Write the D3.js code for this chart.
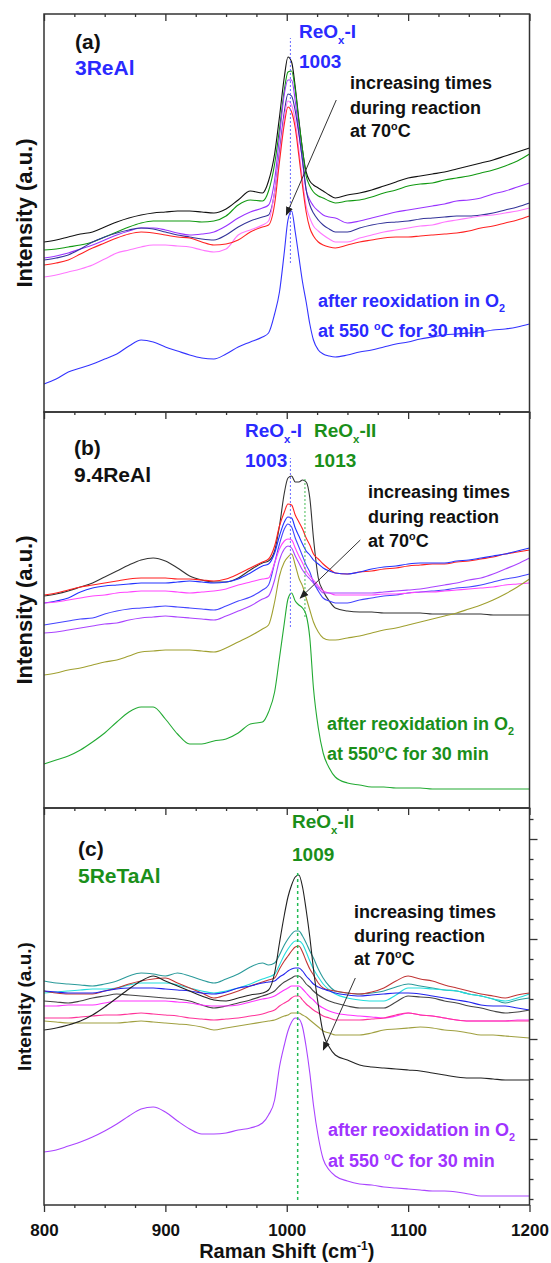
<!DOCTYPE html>
<html>
<head>
<meta charset="utf-8">
<script src="https://cdn.jsdelivr.net/npm/d3@7"></script>
<style>
body { margin: 0; background: #fff; }
svg { display: block; font-family: "Liberation Sans", Arial, sans-serif; font-weight: bold; }
</style>
</head>
<body>
<svg id="chart" width="551" height="1263"></svg>
<script>
// Raman shift grid (cm-1), shared by the three panels
const shift = [800,810,820,830,840,850,860,870,880,890,900,910,920,930,940,950,960,970,980,
	985,990,994,998,1001,1004,1007,1010,1013,1016,1019,1022,1026,1030,1035,
	1040,1050,1060,1070,1080,1090,1100,1110,1120,1130,1140,1150,1160,1170,1180,1190,1200];

// (a) 3ReAl, intensities (a.u., offset spectra)
const aBlack  = [170,172,175,178,180,185,190,194,197,199,200,201,201,200,199,203,212,221,219, 231,258,295,335,355,350,325,292,262,240,231,227,224,221,217, 214,217,219,222,226,230,234,236,238,240,243,246,249,252,256,260,264];
const aGreen  = [162,163,165,167,170,175,180,185,189,191,191,191,191,190,191,196,207,212,211, 221,248,283,322,340,341,322,290,262,236,226,220,216,214,211, 209,211,212,215,219,222,226,228,229,232,234,236,239,242,246,251,258];
const aPurple = [154,156,159,163,167,172,177,181,184,184,182,179,177,178,180,186,194,200,204, 207,232,275,318,332,332,311,280,250,222,212,206,201,197,195, 194,189,191,194,197,200,202,204,206,208,211,212,214,218,221,225,229];
const aNavy   = [152,154,157,163,170,175,179,182,184,183,180,177,175,173,172,177,185,191,195, 197,220,260,300,318,316,301,278,252,222,207,199,192,187,183, 180,180,184,187,189,190,191,193,194,195,196,196,197,199,202,205,209];
const aPink   = [135,137,140,143,147,153,159,162,165,167,167,166,165,162,160,163,177,182,187, 191,220,256,295,311,307,291,262,232,206,194,186,181,177,173, 170,170,174,177,180,182,184,186,187,190,192,194,196,197,199,201,204];
const aRed    = [147,149,152,158,164,169,174,178,180,179,177,175,174,170,167,168,172,180,185, 187,208,250,288,305,300,284,256,226,200,184,176,170,167,165, 164,167,170,172,174,175,175,176,177,178,179,181,184,186,189,192,196];
const aReox   = [28,33,40,44,48,53,58,66,72,70,65,61,57,54,53,58,65,70,75, 79,98,120,160,192,201,180,155,130,110,88,72,62,58,56, 55,57,60,62,65,68,70,73,75,77,78,79,80,82,83,85,88];

// (b) 9.4ReAl
const bBlack   = [212,214,217,221,225,231,237,243,248,250,247,240,232,228,226,226,230,238,245, 247,257,282,315,330,332,326,326,328,326,310,270,230,217,207, 200,197,196,196,195,195,195,195,194,194,194,194,194,193,193,193,193];
const bRed     = [213,215,218,221,223,225,227,229,230,230,230,229,229,228,227,229,234,240,246, 249,262,282,296,304,303,293,286,279,270,263,254,249,244,239, 235,234,236,237,239,240,242,243,244,244,246,247,249,251,254,256,258];
const bBlue    = [205,207,210,216,220,222,223,224,225,225,225,226,227,226,225,226,229,235,242, 244,255,272,286,291,290,280,272,264,257,253,248,244,240,237, 235,234,236,239,241,242,244,245,245,245,247,248,250,252,254,257,260];
const bBlue2   = [183,185,187,189,190,194,197,199,200,201,202,201,200,199,198,202,207,211,218, 223,245,264,279,284,281,270,261,252,243,236,226,217,210,207, 205,205,208,210,212,213,215,216,217,218,220,221,223,226,229,231,234];
const bMagenta = [205,206,208,210,212,213,215,216,217,217,217,216,215,216,217,219,223,226,229, 230,245,259,267,269,268,260,252,245,237,232,228,222,217,215, 213,213,213,213,214,214,215,216,216,217,218,219,220,221,223,224,225];
const bPurple  = [175,176,178,180,182,184,185,188,190,191,192,191,190,189,188,192,197,202,209, 212,228,248,259,262,260,252,245,238,233,229,225,220,215,215, 215,215,215,215,216,217,218,219,221,223,225,228,230,234,239,244,250];
const bOlive   = [133,135,138,140,143,146,148,152,156,157,158,158,158,157,156,160,166,172,179, 183,206,232,246,251,254,243,230,222,210,198,186,176,170,168, 168,170,172,175,178,180,183,186,189,192,195,199,203,208,214,221,229];
const bReox    = [44,48,52,58,66,75,86,96,101,101,89,74,64,64,67,69,75,84,86, 96,116,150,185,209,215,207,203,200,193,170,120,80,55,40, 31,25,23,21,21,20,20,20,19,19,19,19,19,19,19,19,19];

// (c) 5ReTaAl
const cBlack   = [175,177,180,184,190,198,207,216,224,229,224,219,214,209,205,204,207,210,212, 215,232,262,290,308,320,328,330,318,295,268,236,200,172,158, 150,145,140,138,137,136,135,134,132,130,128,127,127,126,125,125,125];
const cTeal    = [224,222,221,220,219,221,224,229,232,231,229,232,229,225,222,226,231,238,242, 240,242,250,260,266,271,274,274,269,262,254,247,236,227,219, 214,212,211,212,214,218,221,219,217,215,214,211,209,206,202,205,207];
const cCyan    = [212,213,214,215,216,216,217,220,222,222,222,220,217,214,212,214,217,221,226, 228,231,240,250,256,261,264,264,261,253,244,236,228,221,215, 211,207,205,204,204,210,217,217,216,215,214,211,209,206,204,207,211];
const cBrown   = [214,212,211,211,211,214,217,221,224,226,227,222,217,212,207,210,214,219,223, 225,227,236,244,249,254,258,259,253,244,236,230,222,217,215, 214,212,211,213,217,224,229,226,224,220,217,214,211,209,207,210,212];
const cBlue    = [214,213,212,212,212,214,216,217,217,217,216,215,214,212,211,213,217,219,222, 223,224,228,231,234,236,237,237,234,229,225,221,218,216,214, 212,210,209,210,211,212,212,211,209,207,205,203,200,199,199,197,195];
const cGray    = [204,203,202,204,207,209,211,210,209,208,207,206,204,200,197,199,202,205,209, 211,214,219,223,225,227,229,229,226,221,218,214,210,207,204, 202,199,197,197,197,203,209,208,207,204,202,199,197,194,192,193,195];
const cMagenta = [199,199,200,200,200,202,204,204,204,204,204,203,202,200,199,199,200,203,206, 207,209,212,215,217,219,219,219,216,212,208,205,200,197,194, 192,190,189,188,187,189,192,190,189,187,185,184,184,184,184,185,185];
const cPink    = [187,187,187,188,189,190,190,191,192,191,190,189,187,186,185,186,187,189,191, 193,195,199,202,204,207,209,209,205,201,198,195,192,189,187, 185,185,185,186,187,190,192,190,189,187,185,184,184,184,184,184,184];
const cOlive   = [184,183,182,182,182,182,182,183,184,183,182,181,180,178,175,177,179,181,183, 184,185,187,189,190,192,192,192,190,188,185,182,178,174,172, 170,170,170,172,175,176,177,178,177,175,174,172,170,170,169,168,167];
const cReox    = [53,55,59,63,68,74,81,89,96,98,93,84,76,71,71,72,75,77,82, 90,105,138,160,174,183,187,186,178,158,132,100,68,46,35, 29,24,21,20,18,17,16,15,14,14,13,11,9,9,9,9,9];

// axis ticks
const majorTicks = [800, 900, 1000, 1100, 1200];
const minorTicks = [825,850,875,925,950,975,1025,1050,1075,1125,1150,1175];
const rightTicksC = d3.range(6, 397, 20);

const BLUE = "#2a2aff", GREEN = "#1a8f1a", PURPLE = "#a033ff";

const panels = [
	{
		top: 14, bottom: 412, labelSize: 22,
		series: [
			[aBlack, "#111"], [aGreen, "#119911"], [aPurple, "#9933ff"], [aNavy, "#333399"],
			[aPink, "#ff77ff"], [aRed, "#ff2222"], [aReox, "#3333ff"]
		],
		guides: [{ at: 1003, from: 149, to: 374, color: "#6a6aff", dash: "2,2", width: 1 }],
		arrow: [[1040.8, 312], [999.6, 197]],
		texts: [
			{ dx: 31, dy: 35, size: 21, color: "#111", parts: ["(a)"] },
			{ dx: 31, dy: 61, size: 21, color: BLUE, parts: ["3ReAl"] },
			{ dx: 255, dy: 24, size: 19, color: BLUE, parts: ["ReO", ["x", "sub"], "-I"] },
			{ dx: 255, dy: 54, size: 19, color: BLUE, parts: ["1003"] },
			{ dx: 306, dy: 75, size: 18, color: "#111", parts: ["increasing times"] },
			{ dx: 306, dy: 100, size: 18, color: "#111", parts: ["during reaction"] },
			{ dx: 306, dy: 123, size: 18, color: "#111", parts: ["at 70", ["o", "sup"], "C"] },
			{ dx: 274, dy: 293, size: 18, color: BLUE, parts: ["after reoxidation in O", ["2", "sub"]] },
			{ dx: 274, dy: 323, size: 18, color: BLUE, parts: ["at 550 ", ["o", "sup"], "C for 30 min"] }
		]
	},
	{
		top: 412, bottom: 808, labelSize: 22,
		series: [
			[bBlack, "#333"], [bRed, "#ff2020"], [bBlue, "#2233ff"], [bBlue2, "#4444ff"],
			[bMagenta, "#ff44ff"], [bPurple, "#aa44ff"], [bOlive, "#a0a030"], [bReox, "#22aa33"]
		],
		guides: [
			{ at: 1003, from: 181, to: 350, color: "#6a6aff", dash: "2,2", width: 1 },
			{ at: 1015, from: 191, to: 331, color: "#44bb55", dash: "2,2", width: 1 }
		],
		arrow: [[1060.6, 268], [1011.1, 210]],
		texts: [
			{ dx: 30, dy: 43, size: 21, color: "#111", parts: ["(b)"] },
			{ dx: 30, dy: 70, size: 21, color: "#111", parts: ["9.4ReAl"] },
			{ dx: 201, dy: 25, size: 19, color: BLUE, parts: ["ReO", ["x", "sub"], "-I"] },
			{ dx: 201, dy: 55, size: 19, color: BLUE, parts: ["1003"] },
			{ dx: 270, dy: 25, size: 19, color: GREEN, parts: ["ReO", ["x", "sub"], "-II"] },
			{ dx: 270, dy: 55, size: 19, color: GREEN, parts: ["1013"] },
			{ dx: 324, dy: 86, size: 18, color: "#111", parts: ["increasing times"] },
			{ dx: 324, dy: 111, size: 18, color: "#111", parts: ["during reaction"] },
			{ dx: 324, dy: 135, size: 18, color: "#111", parts: ["at 70", ["o", "sup"], "C"] },
			{ dx: 283, dy: 318, size: 18, color: GREEN, parts: ["after reoxidation in O", ["2", "sub"]] },
			{ dx: 283, dy: 348, size: 18, color: GREEN, parts: ["at 550", ["o", "sup"], "C for 30 min"] }
		]
	},
	{
		top: 808, bottom: 1205, labelSize: 19,
		series: [
			[cTeal, "#2a9a9a"], [cCyan, "#22dddd"], [cBrown, "#c03535"], [cBlue, "#2222ee"],
			[cGray, "#444"], [cMagenta, "#ff33ff"], [cPink, "#ff3399"], [cOlive, "#a0a040"],
			[cBlack, "#222"], [cReox, "#aa44ff"]
		],
		guides: [{ at: 1009, from: 5, to: 332, color: "#22bb55", dash: "3,3", width: 1.5 }],
		arrow: [[1056.5, 227], [1030.1, 155]],
		texts: [
			{ dx: 248, dy: 20, size: 19, color: GREEN, parts: ["ReO", ["x", "sub"], "-II"] },
			{ dx: 248, dy: 53, size: 19, color: GREEN, parts: ["1009"] },
			{ dx: 34, dy: 48, size: 21, color: "#111", parts: ["(c)"] },
			{ dx: 34, dy: 75, size: 21, color: GREEN, parts: ["5ReTaAl"] },
			{ dx: 310, dy: 110, size: 18, color: "#111", parts: ["increasing times"] },
			{ dx: 310, dy: 134, size: 18, color: "#111", parts: ["during reaction"] },
			{ dx: 310, dy: 157, size: 18, color: "#111", parts: ["at 70", ["o", "sup"], "C"] },
			{ dx: 284, dy: 328, size: 18, color: PURPLE, parts: ["after reoxidation in O", ["2", "sub"]] },
			{ dx: 284, dy: 359, size: 18, color: PURPLE, parts: ["at 550 ", ["o", "sup"], "C for 30 min"] }
		]
	}
];

const svg = d3.select("#chart");
const x = d3.scaleLinear().domain([800, 1200]).range([44, 529.5]);
const LEFT = x(800), RIGHT = x(1200);

svg.append("defs").append("marker")
	.attr("id", "arrowhead")
	.attr("viewBox", "0 0 10 10")
	.attr("refX", 9).attr("refY", 5)
	.attr("markerWidth", 9).attr("markerHeight", 9)
	.attr("orient", "auto")
	.append("path")
	.attr("d", "M0,1 L10,5 L0,9 Z")
	.attr("fill", "#222");

// text with sub/superscript pieces
function richText(g, px, py, parts, size, color) {
	const t = g.append("text")
		.attr("x", px).attr("y", py)
		.style("font-size", size + "px")
		.style("fill", color);
	let shift = 0;
	parts.forEach(part => {
		const [str, kind] = typeof part === "string" ? [part, null] : part;
		const target = kind === "sub" ? size * 0.3 : kind === "sup" ? -size * 0.4 : 0;
		const ts = t.append("tspan").text(str);
		if (target !== shift) ts.attr("dy", target - shift);
		if (kind) ts.style("font-size", (size * 0.6) + "px");
		shift = target;
	});
	return t;
}

function xTicks(yPos, withLabels) {
	const minor = svg.append("g")
		.attr("transform", `translate(0,${yPos})`)
		.call(d3.axisBottom(x).tickValues(minorTicks).tickSize(3).tickFormat(""));
	minor.select(".domain").remove();
	const major = svg.append("g")
		.attr("transform", `translate(0,${yPos})`)
		.call(d3.axisBottom(x).tickValues(majorTicks).tickSize(7)
			.tickFormat(withLabels ? d3.format("d") : ""));
	major.select(".domain").remove();
	svg.selectAll(".tick line").attr("stroke", "#333").attr("stroke-width", 1.3);
	major.selectAll("text")
		.attr("y", 19)
		.attr("dy", "0.71em")
		.style("font-size", "17px")
		.style("font-family", "'Liberation Sans', Arial, sans-serif")
		.style("font-weight", "bold")
		.style("fill", "#111");
}

panels.forEach((p, pi) => {
	const y = d3.scaleLinear().domain([0, p.bottom - p.top]).range([p.bottom, p.top]);
	const g = svg.append("g");

	const line = d3.line()
		.x((d, i) => x(shift[i]))
		.y(d => y(d))
		.curve(d3.curveMonotoneX);

	p.series.forEach(([vals, color]) => {
		g.append("path")
			.attr("d", line(vals))
			.attr("fill", "none")
			.attr("stroke", color)
			.attr("stroke-width", 1.1)
			.attr("stroke-linejoin", "round");
	});

	// peak position guides
	p.guides.forEach(gd => {
		g.append("line")
			.attr("x1", x(gd.at)).attr("x2", x(gd.at))
			.attr("y1", y(gd.from)).attr("y2", y(gd.to))
			.attr("stroke", gd.color)
			.attr("stroke-width", gd.width)
			.attr("stroke-dasharray", gd.dash);
	});

	// arrow
	g.append("line")
		.attr("x1", x(p.arrow[0][0])).attr("y1", y(p.arrow[0][1]))
		.attr("x2", x(p.arrow[1][0])).attr("y2", y(p.arrow[1][1]))
		.attr("stroke", "#333")
		.attr("stroke-width", 1)
		.attr("marker-end", "url(#arrowhead)");

	p.texts.forEach(t => richText(g, LEFT + t.dx, p.top + t.dy, t.parts, t.size, t.color));

	// y title
	g.append("text")
		.attr("transform", `translate(24,${(p.top + p.bottom) / 2}) rotate(-90)`)
		.attr("text-anchor", "middle")
		.attr("dy", "0.36em")
		.style("font-size", p.labelSize + "px")
		.style("fill", "#111")
		.text("Intensity (a.u.)");

	// frame
	g.append("rect")
		.attr("x", LEFT).attr("y", p.top)
		.attr("width", RIGHT - LEFT).attr("height", p.bottom - p.top)
		.attr("fill", "none")
		.attr("stroke", "#333")
		.attr("stroke-width", 1.5);

	if (pi === 2) {
		const rMinor = svg.append("g")
			.attr("transform", `translate(${RIGHT},0)`)
			.call(d3.axisRight(y).tickValues(rightTicksC.filter((d, i) => i % 5 !== 3)).tickSize(4).tickFormat(""));
		rMinor.select(".domain").remove();
		const rMajor = svg.append("g")
			.attr("transform", `translate(${RIGHT},0)`)
			.call(d3.axisRight(y).tickValues(rightTicksC.filter((d, i) => i % 5 === 3)).tickSize(8).tickFormat(""));
		rMajor.select(".domain").remove();
	}
});

xTicks(14, false);
xTicks(412, false);
xTicks(808, false);
xTicks(1205, true);

richText(svg, x(1000), 1258, ["Raman Shift (cm", ["-1", "sup"], ")"], 20, "#111")
	.attr("text-anchor", "middle");
</script>
</body>
</html>
